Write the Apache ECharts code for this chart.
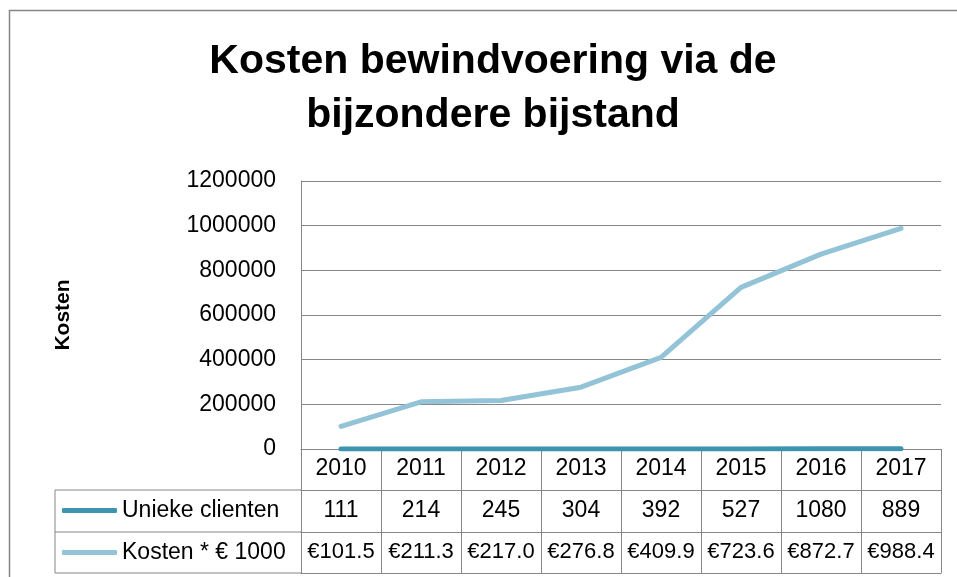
<!DOCTYPE html>
<html>
<head>
<meta charset="utf-8">
<script src="https://cdn.jsdelivr.net/npm/echarts@6/dist/echarts.min.js"></script>
<style>
html, body { margin: 0; padding: 0; background: #fff; }
#chart { width: 957px; height: 577px; }
</style>
</head>
<body>
<div id="chart"></div>
<script>
// data from the table under the chart
var years = ['2010', '2011', '2012', '2013', '2014', '2015', '2016', '2017'];
var clienten = [111, 214, 245, 304, 392, 527, 1080, 889];
var kostenK = [101.5, 211.3, 217.0, 276.8, 409.9, 723.6, 872.7, 988.4]; // x 1000 euro
var yTicks = [0, 200000, 400000, 600000, 800000, 1000000, 1200000];

var kosten = [];
var kostenLabels = [];
for (var i = 0; i < kostenK.length; i++) {
    kosten.push(Math.round(kostenK[i] * 1000));
    kostenLabels.push('€' + kostenK[i].toFixed(1));
}
var clientenLabels = clienten.map(function (v) { return String(v); });

var grijs = '#868686';
var font = 'Liberation Sans';

var oChart = echarts.init(document.getElementById('chart'));

var chartopt = {
    animation: false,
    backgroundColor: '#fff',
    title: {
        text: 'Kosten bewindvoering via de\nbijzondere bijstand',
        left: 488,
        top: 30,
        textAlign: 'center',
        textStyle: {
            fontFamily: font,
            fontWeight: 'bold',
            fontSize: 41,
            lineHeight: 54,
            color: '#000'
        }
    },
    legend: {
        orient: 'vertical',
        left: 62,
        top: 499,
        padding: 0,
        icon: 'roundRect',
        itemWidth: 55,
        itemHeight: 5,
        itemGap: 19,
        data: ['Unieke clienten', 'Kosten * € 1000'],
        textStyle: { fontFamily: font, fontSize: 23, color: '#000' }
    },
    grid: {
        left: 301,
        right: 16,
        top: 181,
        bottom: 128
    },
    xAxis: [{
        type: 'category',
        data: years,
        boundaryGap: true,
        axisLine: { show: true, lineStyle: { color: grijs, width: 1 } },
        axisTick: { show: true, interval: 0, length: 124, lineStyle: { color: grijs } },
        axisLabel: { interval: 0, margin: 20, verticalAlign: 'middle', fontFamily: font, fontSize: 23, color: '#000' },
        splitLine: { show: false }
    }, {
        type: 'category',
        position: 'bottom',
        offset: 41,
        data: clientenLabels,
        axisLine: { show: true, lineStyle: { color: grijs } },
        axisTick: { show: false },
        axisLabel: { interval: 0, margin: 21, verticalAlign: 'middle', fontFamily: font, fontSize: 23, color: '#000' }
    }, {
        type: 'category',
        position: 'bottom',
        offset: 83,
        data: kostenLabels,
        axisLine: { show: true, lineStyle: { color: grijs } },
        axisTick: { show: false },
        axisLabel: { interval: 0, margin: 20, verticalAlign: 'middle', fontFamily: font, fontSize: 22, color: '#000' }
    }, {
        type: 'category',
        position: 'bottom',
        offset: 124,
        data: years,
        axisLine: { show: true, lineStyle: { color: grijs } },
        axisTick: { show: false },
        axisLabel: { show: false }
    }],
    yAxis: [{
        type: 'value',
        min: yTicks[0],
        max: yTicks[yTicks.length - 1],
        interval: 200000,
        name: 'Kosten',
        nameLocation: 'middle',
        nameRotate: 90,
        nameGap: 227,
        nameTextStyle: { fontFamily: font, fontWeight: 'bold', fontSize: 21, color: '#000' },
        axisLine: { show: true, lineStyle: { color: grijs } },
        axisTick: { show: false },
        axisLabel: {
            margin: 25, fontFamily: font, fontSize: 23, color: '#000',
            formatter: function (v) { return String(v); }
        },
        splitLine: { show: true, lineStyle: { color: grijs } }
    }],
    series: [{
        name: 'Unieke clienten',
        type: 'line',
        xAxisIndex: 0,
        symbol: 'none',
        color: '#3D94AE',
        lineStyle: { width: 5, cap: 'round', color: '#3D94AE' },
        data: clienten
    }, {
        name: 'Kosten * € 1000',
        type: 'line',
        xAxisIndex: 0,
        symbol: 'none',
        color: '#92C3D6',
        lineStyle: { width: 5, cap: 'round', color: '#92C3D6' },
        data: kosten
    }],
    graphic: [
        // outer chart frame
        { type: 'rect', shape: { x: 9.5, y: 10.5, width: 1000, height: 1000 }, style: { fill: null, stroke: grijs, lineWidth: 1.5 }, silent: true },
        // left column of the data table
        { type: 'line', shape: { x1: 55, y1: 490, x2: 301, y2: 490 }, style: { stroke: grijs, lineWidth: 1 } },
        { type: 'line', shape: { x1: 55, y1: 532, x2: 301, y2: 532 }, style: { stroke: grijs, lineWidth: 1 } },
        { type: 'line', shape: { x1: 55, y1: 573, x2: 301, y2: 573 }, style: { stroke: grijs, lineWidth: 1 } },
        { type: 'line', shape: { x1: 55, y1: 490, x2: 55, y2: 573 }, style: { stroke: grijs, lineWidth: 1 } }
    ]
};

oChart.setOption(chartopt);
</script>
</body>
</html>
